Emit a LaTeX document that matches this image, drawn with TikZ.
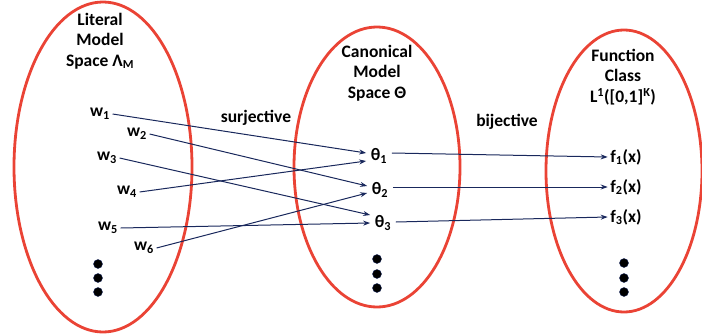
\documentclass[tikz,border=0pt]{standalone}
\usepackage{fontspec}
\setmainfont{Carlito}
\usetikzlibrary{arrows.meta}
\definecolor{ringred}{RGB}{234,67,53}
\definecolor{mapblue}{RGB}{25,40,92}
\tikzset{>={Stealth[length=7pt,width=5pt]}}
\tikzset{
  ring/.style={draw=ringred,line width=2.8pt},
  lab/.style={font=\fontsize{17.5}{20.5}\selectfont\bfseries,inner sep=2.5pt},
  title/.style={lab,align=center},
  map/.style={->,draw=mapblue,line width=1pt},
  dot/.style={fill=black,draw=mapblue,line width=0.4pt}
}

\begin{document}
\begin{tikzpicture}[x=1pt,y=-1pt]
\useasboundingbox (0,0) rectangle (702,335);
\draw[ring] (103,167) ellipse [x radius=89, y radius=165];
\draw[ring] (377,167) ellipse [x radius=83, y radius=140];
\draw[ring] (624,171) ellipse [x radius=78, y radius=141];

\node[title] (lit) at (100,41) {Literal\\Model\\Space Λ\textsubscript{M}};
\node[title] (can) at (377,73) {Canonical\\Model\\Space Θ};
\node[title] (fun) at (623,77) {Function\\Class\\L\textsuperscript{1}([0,1]\textsuperscript{K})};
\node[lab] (surj) at (256,118) {surjective};
\node[lab] (bij) at (507,122) {bijective};

\node[lab] (w1) at (100,114) {w\textsubscript{1}};
\node[lab] (w2) at (137,134) {w\textsubscript{2}};
\node[lab] (w3) at (107,158) {w\textsubscript{3}};
\node[lab] (w4) at (127,192) {w\textsubscript{4}};
\node[lab] (w5) at (108,228) {w\textsubscript{5}};
\node[lab] (w6) at (144,248) {w\textsubscript{6}};

\node[lab,inner sep=4.5pt] (t1) at (379,156) {θ\textsubscript{1}};
\node[lab,inner sep=4.5pt] (t2) at (380,190) {θ\textsubscript{2}};
\node[lab,inner sep=4.5pt] (t3) at (383,223) {θ\textsubscript{3}};

\node[lab] (f1) at (626,157) {f\textsubscript{1}(x)};
\node[lab] (f2) at (626,187) {f\textsubscript{2}(x)};
\node[lab] (f3) at (626,217) {f\textsubscript{3}(x)};

\draw[map] (w1.east) -- ([yshift=3pt]t1.west);
\draw[map] (w2.east) -- ([yshift=4pt]t2.west);
\draw[map] (w3.east) -- ([yshift=8pt]t3.west);
\draw[map] (w4.east) -- ([yshift=-5pt]t1.west);
\draw[map] (w5.east) -- (t3.west);
\draw[map] (w6.east) -- ([yshift=-3pt]t2.west);

\draw[map] ([yshift=3pt]t1.east) -- (f1.west);
\draw[map] ([yshift=3pt]t2.east) -- (f2.west);
\draw[map] ([yshift=1pt]t3.east) -- (f3.west);

\foreach \y in {264,278,292} \fill[dot] (98,\y) circle (4.5);
\foreach \y in {259,274,288} \fill[dot] (377,\y) circle (4.5);
\foreach \y in {263,278,292} \fill[dot] (624,\y) circle (4.5);
\end{tikzpicture}
\end{document}
